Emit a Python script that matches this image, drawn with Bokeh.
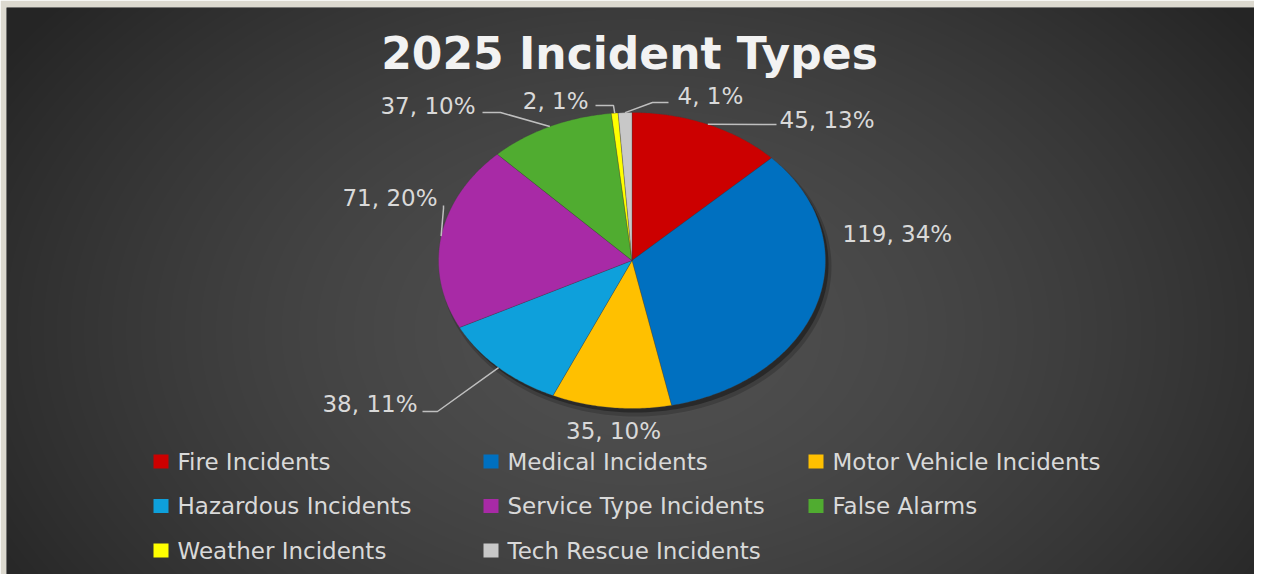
import numpy as np
from bokeh.plotting import figure
from bokeh.models import Range1d, ColumnDataSource
from bokeh.core.properties import value
from bokeh.embed import file_html
from bokeh.resources import INLINE

# ---------------- data ----------------
title = "2025 Incident Types"
categories = ["Fire Incidents", "Medical Incidents", "Motor Vehicle Incidents",
              "Hazardous Incidents", "Service Type Incidents", "False Alarms",
              "Weather Incidents", "Tech Rescue Incidents"]
counts = [45, 119, 35, 38, 71, 37, 2, 4]
percent_labels = ["13%", "34%", "10%", "11%", "20%", "10%", "1%", "1%"]
colors = ["#CC0000", "#0070C0", "#FFC000", "#0EA0DB",
          "#A82AA6", "#50AC30", "#FFFF00", "#C8C8C8"]

# ---------------- layout (pixel coordinates from the figure's top-left) ----------------
W, H = 1254, 574
FL, FT = 6, 7            # frame left / top offset (light edge around the dark panel)
CX, CY, RX, RY = 631.5, 260.0, 193.5, 148.0
FONT = "DejaVu Sans"
LABEL_COLOR = "#D9D9D9"

# per-slice label layout: text x, text centre y, align, leader start, leader elbow
label_layout = [
    (779, 119.5, "left", (776, 124), None),
    (842, 233, "left", None, None),
    (613, 430.5, "center", None, None),
    (417, 403, "right", (422, 411), (437, 411)),
    (437, 197.5, "right", (443, 205), (443, 208)),
    (475, 105.5, "right", (482, 112), (500, 112)),
    (588, 100, "right", (595, 105), (613, 105)),
    (677, 95.5, "left", (668, 102), (652, 102)),
]
legend_cols = [153, 483, 808]
legend_rows = [461, 505.5, 550]

p = figure(width=W, height=H, x_range=Range1d(FL, W), y_range=Range1d(H, FT),
           x_axis_type=None, y_axis_type=None, output_backend="svg",
           toolbar_location=None, min_border=0,
           min_border_left=FL, min_border_top=FT, min_border_right=0, min_border_bottom=0)
p.grid.visible = False
p.outline_line_color = None
p.background_fill_color = "#333333"
p.border_fill_color = "#DCD9CF"

# background radial gradient over the frame
FW, FH = W - FL, H - FT
yy, xx = np.mgrid[0:FH, 0:FW]
d = np.sqrt(((xx + FL - 640) / 760.0) ** 2 + ((yy + FT - 330) / 520.0) ** 2)
lum = (0x50 - (0x50 - 0x25) * np.clip(d, 0, 1) ** 1.5).astype(np.uint8)
img = np.empty((FH, FW), dtype=np.uint32)
view = img.view(dtype=np.uint8).reshape((FH, FW, 4))
view[:, :, 0] = lum
view[:, :, 1] = lum
view[:, :, 2] = lum
view[:, :, 3] = 255
p.image_rgba(image=[img], x=FL, y=FT, dw=FW, dh=FH)

# pie geometry from data
vals = np.array(counts, dtype=float)
total = vals.sum()
cum = np.cumsum(vals)
starts = 2 * np.pi * (cum - vals) / total
ends = 2 * np.pi * cum / total
mids = (starts + ends) / 2

xs, ys = [], []
for s, e in zip(starts, ends):
    t = np.linspace(s, e, max(4, int((e - s) * 80)))
    xs.append([CX] + list(CX + RX * np.sin(t)))
    ys.append([CY] + list(CY - RY * np.cos(t)))

# shadow
tt = np.linspace(0, 2 * np.pi, 200)
p.patch(CX + 4 + (RX + 2) * np.sin(tt), CY + 6 + (RY + 2) * np.cos(tt),
        fill_color="black", fill_alpha=0.18, line_color=None)
p.patch(CX + 3 + RX * np.sin(tt), CY + 4 + RY * np.cos(tt),
        fill_color="black", fill_alpha=0.35, line_color=None)

src = ColumnDataSource(dict(xs=xs, ys=ys, color=colors, name=categories))
p.patches("xs", "ys", source=src, fill_color="color", line_color="#404040",
          line_alpha=0.5, line_width=0.6)

# data labels + leader lines
ax = CX + RX * np.sin(mids)
ay = CY - RY * np.cos(mids)
lx, ly = [], []
for i, (tx, ty, al, ls, el) in enumerate(label_layout):
    if ls is not None:
        px_ = [ls[0]]
        py_ = [ls[1]]
        if el is not None:
            px_.append(el[0]); py_.append(el[1])
        px_.append(ax[i]); py_.append(ay[i])
        lx.append(px_); ly.append(py_)
p.multi_line(lx, ly, line_color="#BFBFBF", line_width=1.5)

for i, (tx, ty, al, ls, el) in enumerate(label_layout):
    p.text(x=[tx], y=[ty], text=[f"{counts[i]}, {percent_labels[i]}"],
           text_font=value(FONT), text_font_size="23px", text_color=LABEL_COLOR,
           text_align=al, text_baseline="middle")

# title
p.text(x=[629], y=[52.5], text=[title], text_font=value(FONT), text_font_style="bold",
       text_font_size="44px", text_color="#F2F2F2", text_align="center",
       text_baseline="middle")

# legend (drawn from categories/colors)
for i, (cat, col) in enumerate(zip(categories, colors)):
    lxp = legend_cols[i % 3]
    lyp = legend_rows[i // 3]
    p.rect(x=[lxp + 7.5], y=[lyp], width=15, height=14, fill_color=col, line_color=None)
    p.text(x=[lxp + 24], y=[lyp], text=[cat], text_font=value(FONT),
           text_font_size="23px", text_color=LABEL_COLOR, text_align="left",
           text_baseline="middle")

open("out.html", "w").write(file_html(p, INLINE))
